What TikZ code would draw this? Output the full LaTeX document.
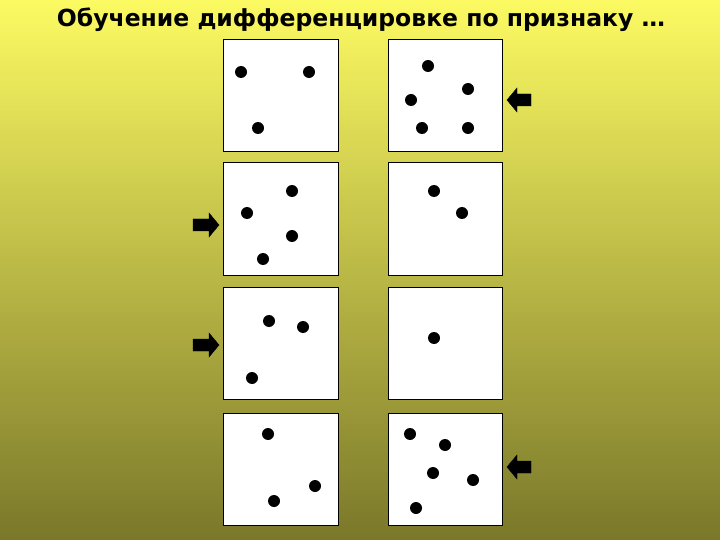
\documentclass[tikz,border=0pt]{standalone}
\usepackage{fontspec}
\setmainfont{DejaVu Sans}
\definecolor{bgtop}{RGB}{252,250,98}
\definecolor{bgbot}{RGB}{122,120,42}
\tikzset{
  card/.style={draw=black, line width=1.2pt, fill=white},
  dot/.style={fill=black, draw=none},
  blockarrow/.style={fill=black, draw=black, line width=0.4pt, line join=miter}
}
\begin{document}
\begin{tikzpicture}[x=1pt,y=-1pt]
\shade[top color=bgtop, bottom color=bgbot] (0,0) rectangle (720,540);
\useasboundingbox (0,0) rectangle (720,540);
\node[font=\bfseries\fontsize{23.5}{26}\selectfont, anchor=center] (title) at (361,20) {Обучение дифференцировке по признаку …};
% boxes
\newcommand{\cardbox}[5]{\node[card, minimum width=#3-#1, minimum height=#4-#2, inner sep=0pt, anchor=north west] (#5) at (#1,#2) {};}
\cardbox{223}{39}{338}{151}{a1}
\cardbox{388}{39}{502}{151}{b1}
\cardbox{223}{162}{338}{275}{a2}
\cardbox{388}{162}{502}{275}{b2}
\cardbox{223}{287}{338}{399}{a3}
\cardbox{388}{287}{502}{399}{b3}
\cardbox{223}{413}{338}{525}{a4}
\cardbox{388}{413}{502}{525}{b4}
% dots
\foreach \x/\y in {241/72, 309/72, 258/128,
                   428/66, 468/89, 411/100, 422/128, 468/128,
                   292/191, 247/213, 292/236, 263/259,
                   434/191, 462/213,
                   269/321, 303/327, 252/378,
                   434/338,
                   268/434, 315/486, 274/501,
                   410/434, 445/445, 433/473, 473/480, 416/508}
  \fill[dot] (\x,\y) circle (6);
% arrows
\coordinate (r1) at (507,100);
\coordinate (l2) at (219,225);
\coordinate (l3) at (219,345);
\coordinate (r4) at (507,467);
\foreach \c in {l2,l3}
  \fill[blockarrow] (\c) -- ++(-10,-12) -- ++(0,6) -- ++(-16,0) -- ++(0,12) -- ++(16,0) -- ++(0,6) -- cycle;
\foreach \c in {r1,r4}
  \fill[blockarrow] (\c) -- ++(10,-12) -- ++(0,6) -- ++(14,0) -- ++(0,12) -- ++(-14,0) -- ++(0,6) -- cycle;
\end{tikzpicture}
\end{document}
